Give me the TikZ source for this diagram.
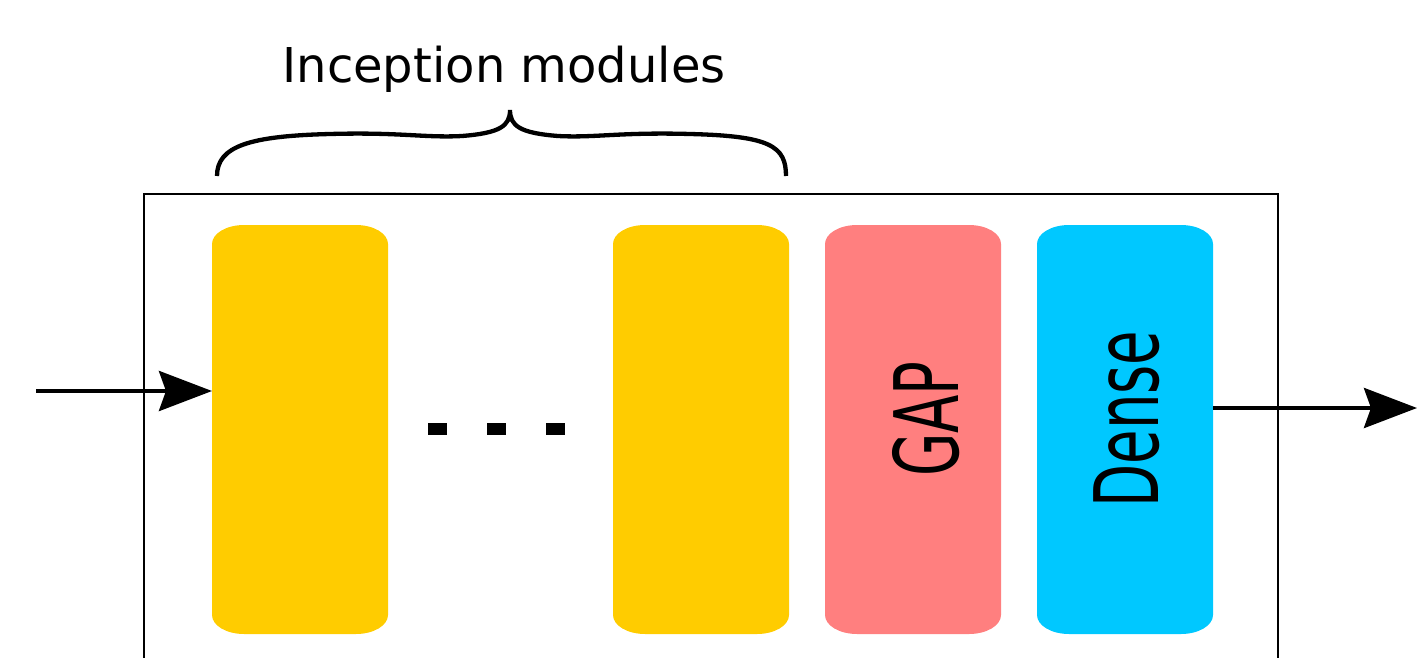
\documentclass[tikz,border=0pt]{standalone}
\usepackage{fontspec}
\usepackage{graphicx}
\setmainfont{DejaVu Sans}
\usetikzlibrary{arrows.meta,calc}

\definecolor{modyellow}{HTML}{FFCC00}
\definecolor{gapred}{HTML}{FF7F7F}
\definecolor{densecyan}{HTML}{00C8FF}

% A coloured block with elliptical corners, placed as an invisible node
% so that connectors can refer to it by name.
\newcommand\roundblock[3]{% node name, centre x, fill colour
  \node[blk] (#1) at (#2,429.5) {};
  \fill[#3]
    ([shift={(32,0)}]#1.north west) -- ([shift={(-32,0)}]#1.north east)
    .. controls ([shift={(-14.3,0)}]#1.north east) and ([shift={(0,8.5)}]#1.north east) .. ([shift={(0,19)}]#1.north east)
    -- ([shift={(0,-19)}]#1.south east)
    .. controls ([shift={(0,-8.5)}]#1.south east) and ([shift={(-14.3,0)}]#1.south east) .. ([shift={(-32,0)}]#1.south east)
    -- ([shift={(32,0)}]#1.south west)
    .. controls ([shift={(14.3,0)}]#1.south west) and ([shift={(0,-8.5)}]#1.south west) .. ([shift={(0,-19)}]#1.south west)
    -- ([shift={(0,19)}]#1.north west)
    .. controls ([shift={(0,8.5)}]#1.north west) and ([shift={(14.3,0)}]#1.north west) .. cycle;
}

\tikzset{
  blk/.style={rectangle, inner sep=0pt, outer sep=0pt,
              minimum width=176pt, minimum height=409pt},
  frame/.style={line width=2.4pt},
  flow/.style={line width=4.3pt,
               -{Stealth[length=53pt, width=40pt, inset=7pt]}},
  bracepath/.style={line width=4.3pt},
  vlabel/.style={rotate=90, inner sep=0pt,
                 font=\fontsize{89}{100}\selectfont},
  title/.style={inner sep=0pt, font=\fontsize{48}{58}\selectfont},
}

\begin{document}
\begin{tikzpicture}[x=1pt, y=-1pt]
  \useasboundingbox (0,0) rectangle (1418,658);

  % network frame (its lower edge lies below the visible area)
  \draw[frame] (144,700) |- (1278,194) -- (1278,700);

  % blocks
  \roundblock{incA}{300}{modyellow}
  \roundblock{incB}{701}{modyellow}
  \roundblock{gap}{913}{gapred}
  \roundblock{dense}{1125}{densecyan}

  % block labels
  \node[vlabel] (gaptext) at (926,419) {\scalebox{0.63}[1]{GAP}};
  \node[vlabel] (densetext) at (1127,419) {\scalebox{0.63}[1]{Dense}};

  % ellipsis between the inception modules
  \fill (428,423) rectangle (447,435);
  \fill (487,423) rectangle (506,435);
  \fill (546,423) rectangle (565,435);

  % brace over the inception modules
  \draw[bracepath]
    (217,176) .. controls (217,146) and (250,136) .. (330,134)
    .. controls (400,132) and (425,138) .. (462,136)
    .. controls (500,133) and (510,126) .. (510,110)
    .. controls (510,126) and (520,133) .. (558,136)
    .. controls (595,138) and (620,132) .. (690,134)
    .. controls (770,136) and (786,146) .. (786,176);
  \node[title, anchor=base] (caption) at (504,83) {Inception modules};

  % input and output connectors
  \coordinate (input) at (36,391);
  \coordinate (output) at (1417,408);
  \draw[flow] (input) -- (input -| incA.west);
  \draw[flow] (output -| dense.east) -- (output);
\end{tikzpicture}
\end{document}
